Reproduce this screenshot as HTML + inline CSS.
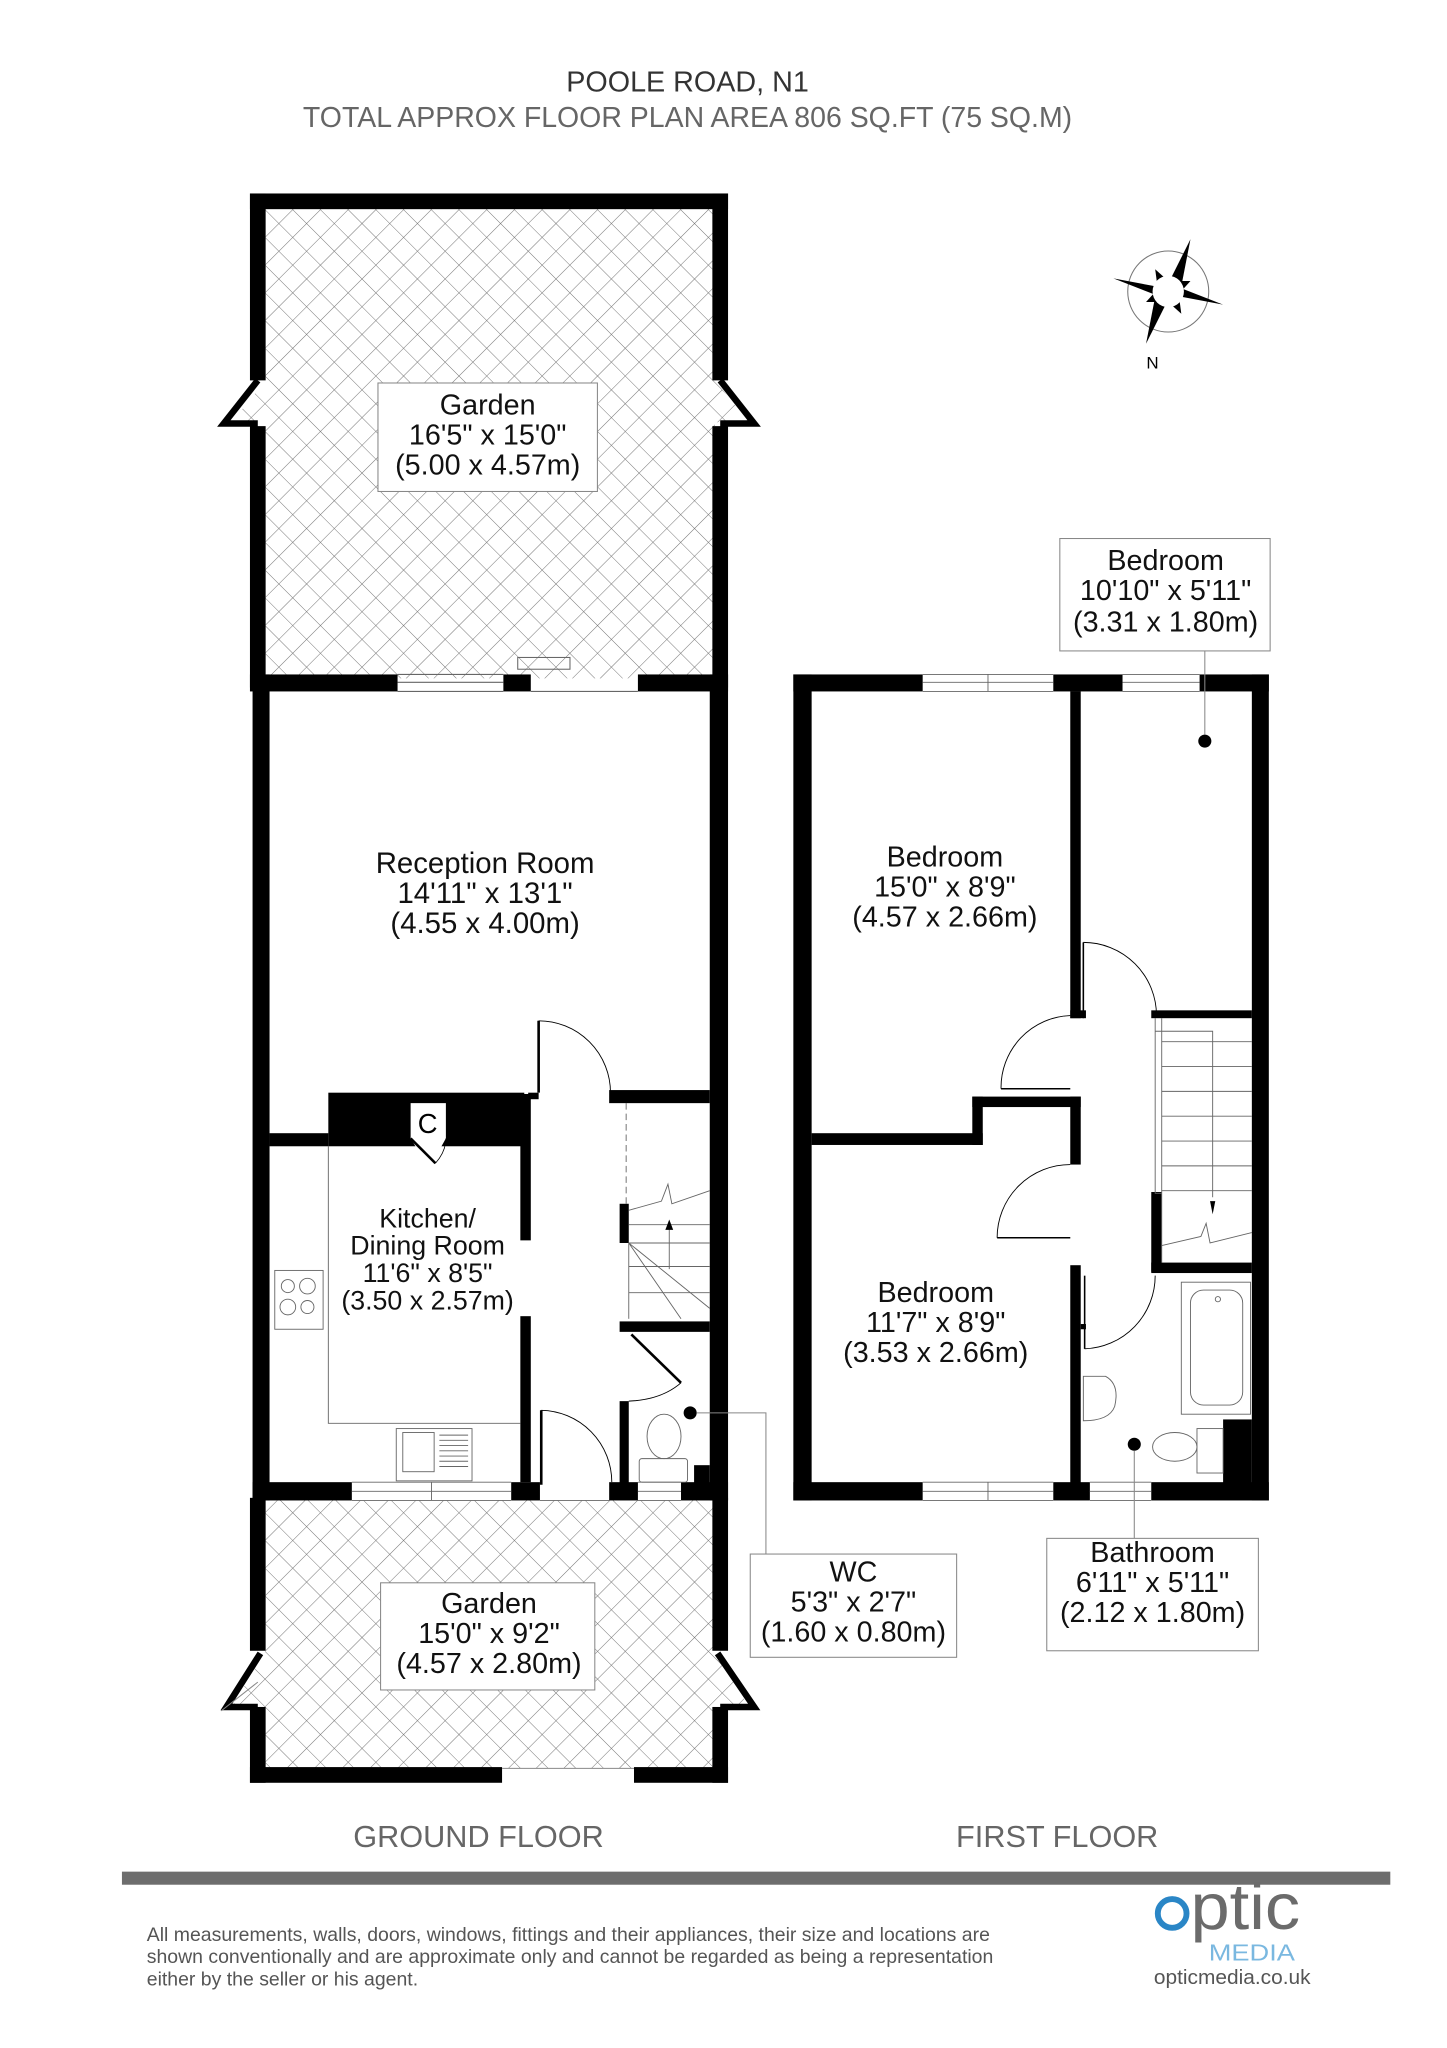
<!DOCTYPE html>
<html><head><meta charset="utf-8">
<style>
html,body{margin:0;padding:0;background:#fff;}
svg{display:block;}
text{font-family:"Liberation Sans",Arial,sans-serif;}
</style></head>
<body>
<svg width="1447" height="2048" viewBox="0 0 1100 1556" preserveAspectRatio="none" xmlns="http://www.w3.org/2000/svg">
<defs>
<pattern id="h" patternUnits="userSpaceOnUse" width="15" height="15" patternTransform="rotate(45)">
<path d="M0 0H15M0 0V15" stroke="#777" stroke-width="0.8"/>
</pattern>
</defs>
<rect width="1100" height="1556" fill="#fff"/>
<g transform="translate(192,147) scale(0.993) translate(-192,-147)">

<!-- Titles -->
<text x="525" y="69" font-size="22" text-anchor="middle" fill="#333">POOLE ROAD, N1</text>
<text x="525" y="96" font-size="21.8" text-anchor="middle" fill="#666">TOTAL APPROX FLOOR PLAN AREA 806 SQ.FT (75 SQ.M)</text>

<!-- Upper garden -->
<polygon points="202,159 546,159 546,290 572,322 546,322 546,518 202,518 202,322 176,322 202,290" fill="url(#h)"/>
<g fill="#000">
<rect x="190" y="147" width="366" height="12"/>
<rect x="190" y="147" width="12" height="143"/>
<rect x="544" y="147" width="12" height="143"/>
<rect x="190" y="325" width="12" height="200"/>
<rect x="544" y="325" width="12" height="200"/>
</g>
<polyline points="196,290 170,323 196,323" fill="none" stroke="#000" stroke-width="5"/>
<polyline points="550,290 576,323 550,323" fill="none" stroke="#000" stroke-width="5"/>
<rect x="288" y="292" width="168" height="83" fill="#fff" stroke="#888" stroke-width="0.8"/>
<text font-size="22" text-anchor="middle" fill="#111"><tspan x="372" y="316">Garden</tspan><tspan x="372" y="339">16'5" x 15'0"</tspan><tspan x="372" y="362">(5.00 x 4.57m)</tspan></text>

<!-- Reception top wall -->
<g fill="#000">
<rect x="190" y="515" width="113" height="13"/>
<rect x="384" y="515" width="21" height="13"/>
<rect x="487" y="515" width="69" height="13"/>
</g>
<g stroke="#666" stroke-width="0.8" fill="none">
<path d="M303 515H384M303 521H384M303 528H384"/>
<rect x="395" y="502" width="40" height="9"/>
<path d="M405 528H487"/>
</g>

<!-- Ground floor walls -->
<g fill="#000">
<rect x="192" y="515" width="13" height="632"/>
<rect x="542" y="515" width="14" height="632"/>
<rect x="205" y="866" width="45" height="10"/>
<rect x="250" y="835" width="150" height="41"/>
<rect x="465" y="833" width="77" height="10"/>
<rect x="403" y="835" width="8" height="5"/>
<rect x="397" y="836" width="8" height="112"/>
<rect x="397" y="1006" width="8" height="127"/>
<rect x="473" y="920" width="7" height="30"/>
<rect x="473" y="1010" width="69" height="8"/>
<rect x="473" y="1071" width="7" height="64"/>
<rect x="530" y="1120" width="12" height="15"/>
<rect x="192" y="1133" width="76" height="14"/>
<rect x="390" y="1133" width="22" height="14"/>
<rect x="465" y="1133" width="22" height="14"/>
<rect x="520" y="1133" width="36" height="14"/>
</g>
<!-- C cupboard -->
<polygon points="313,843 340,843 340,870 327,893 313,870" fill="#fff"/>
<text x="326" y="866" font-size="21" text-anchor="middle">C</text>
<path d="M313 870L332 889" stroke="#000" stroke-width="2"/>
<path d="M332 889Q340 880 340 870" stroke="#000" stroke-width="0.6" fill="none"/>
<!-- kitchen counter lines -->
<g stroke="#666" stroke-width="0.7" fill="none">
<path d="M250 876V1088H397"/>
<rect x="209" y="971" width="37" height="45"/>
<circle cx="219" cy="983" r="5"/><circle cx="234" cy="983" r="6"/>
<circle cx="219" cy="999" r="6"/><circle cx="234" cy="999" r="5"/>
<rect x="302" y="1092" width="58" height="40"/>
<rect x="307" y="1095" width="24" height="30"/>
<path d="M335 1097H357M335 1101H357M335 1105H357M335 1109H357M335 1113H357M335 1117H357M335 1121H357"/>
<path d="M268 1133H390M268 1140H390M268 1147H390M329 1133V1147"/>
<path d="M487 1133H520M487 1140H520M487 1147H520"/>
<path d="M412 1147H465"/>
</g>
<!-- doors ground -->
<g stroke="#000" fill="none">
<path d="M411 780V835" stroke-width="2"/>
<path d="M411 780A55 55 0 0 1 466 835" stroke-width="0.7"/>
<path d="M413 1078V1135" stroke-width="2"/>
<path d="M413 1078A55 55 0 0 1 467 1133" stroke-width="0.7"/>
<path d="M482 1020L520 1057" stroke-width="2"/>
<path d="M520 1057Q505 1070 480 1071" stroke-width="0.7"/>
</g>
<!-- stairs -->
<g stroke="#666" stroke-width="0.7" fill="none">
<path d="M478 843V920" stroke-dasharray="5 3"/>
<path d="M480 925L505 918L510 905L513 920L542 910"/>
<path d="M480 936H542M480 950H542M480 968H542M480 988H542"/>
<path d="M480 950L520 1008M480 950L542 1000"/>
<path d="M511 970V936"/>
<path d="M480 950V1008"/>
</g>
<path d="M508 940L511 932L514 940Z" fill="#000"/>
<!-- WC toilet -->
<g stroke="#666" stroke-width="0.7" fill="none">
<ellipse cx="507" cy="1098" rx="13" ry="17"/>
<rect x="488" y="1115" width="37" height="18" rx="2"/>
</g>
<circle cx="527" cy="1080" r="5" fill="#000"/>
<path d="M532 1080H585V1188" stroke="#888" stroke-width="0.8" fill="none"/>

<!-- Lower garden -->
<polygon points="202,1147 546,1147 546,1262 572,1305 546,1305 546,1352 202,1352 202,1305 176,1305 202,1262" fill="url(#h)"/>
<g fill="#000">
<rect x="190" y="1145" width="12" height="117"/>
<rect x="544" y="1145" width="12" height="117"/>
<rect x="190" y="1305" width="12" height="58"/>
<rect x="544" y="1305" width="12" height="58"/>
<rect x="190" y="1351" width="193" height="12"/>
<rect x="484" y="1351" width="72" height="12"/>
</g>
<path d="M383 1352H484" stroke="#888" stroke-width="0.8"/>
<polyline points="198,1264 172,1305 196,1305" fill="none" stroke="#000" stroke-width="5"/>
<polyline points="548,1264 576,1305 550,1305" fill="none" stroke="#000" stroke-width="5"/>
<path d="M168 1308L196 1286" stroke="#888" stroke-width="0.8"/>
<rect x="290" y="1210" width="164" height="82" fill="#fff" stroke="#888" stroke-width="0.8"/>
<text font-size="22" text-anchor="middle" fill="#111"><tspan x="373" y="1233">Garden</tspan><tspan x="373" y="1256">15'0" x 9'2"</tspan><tspan x="373" y="1279">(4.57 x 2.80m)</tspan></text>

<!-- Reception & kitchen labels -->
<text font-size="22.5" text-anchor="middle" fill="#111"><tspan x="370" y="667">Reception Room</tspan><tspan x="370" y="690">14'11" x 13'1"</tspan><tspan x="370" y="713">(4.55 x 4.00m)</tspan></text>
<text font-size="20.5" text-anchor="middle" fill="#111"><tspan x="326" y="938">Kitchen/</tspan><tspan x="326" y="959">Dining Room</tspan><tspan x="326" y="980">11'6" x 8'5"</tspan><tspan x="326" y="1001">(3.50 x 2.57m)</tspan></text>

<!-- WC label -->
<rect x="573" y="1188" width="158" height="79" fill="#fff" stroke="#888" stroke-width="0.8"/>
<text font-size="22" text-anchor="middle" fill="#111"><tspan x="652" y="1209">WC</tspan><tspan x="652" y="1232">5'3" x 2'7"</tspan><tspan x="652" y="1255">(1.60 x 0.80m)</tspan></text>

<!-- FIRST FLOOR -->
<g fill="#000">
<rect x="606" y="515" width="99" height="13"/>
<rect x="805" y="515" width="53" height="13"/>
<rect x="917" y="515" width="53" height="13"/>
<rect x="606" y="515" width="14" height="632"/>
<rect x="957" y="515" width="13" height="632"/>
<rect x="606" y="1133" width="99" height="14"/>
<rect x="805" y="1133" width="28" height="14"/>
<rect x="880" y="1133" width="90" height="14"/>
<rect x="818" y="528" width="8" height="250"/>
<rect x="818" y="772" width="12" height="6"/>
<rect x="818" y="838" width="8" height="52"/>
<rect x="818" y="967" width="8" height="168"/>
<rect x="826" y="1012" width="4" height="4"/>
<rect x="620" y="866" width="131" height="9"/>
<rect x="743" y="838" width="8" height="37"/>
<rect x="743" y="838" width="83" height="8"/>
<rect x="880" y="772" width="77" height="6"/>
<rect x="880" y="911" width="8" height="61"/>
<rect x="880" y="965" width="77" height="8"/>
<rect x="935" y="1085" width="22" height="50"/>
</g>
<g stroke="#666" stroke-width="0.7" fill="none">
<path d="M705 515H805M705 521H805M705 528H805M755 515V528"/>
<path d="M858 515H917M858 521H917M858 528H917"/>
<path d="M705 1133H805M705 1140H805M705 1147H805M755 1133V1147"/>
<path d="M833 1133H880M833 1140H880M833 1147H880"/>
<path d="M883 778V912H888M888 778V965"/>
<path d="M888 796H957M888 815H957M888 834H957M888 853H957M888 872H957M888 891H957M888 910H957"/>
<path d="M888 952L918 945L922 935L925 950L957 942"/>
<path d="M883 788H927V915"/>
<rect x="903" y="980" width="53" height="101"/>
<rect x="910" y="986" width="40" height="88" rx="10"/>
<circle cx="931" cy="993" r="2"/>
<ellipse cx="898" cy="1106" rx="17" ry="11"/>
<rect x="915" y="1092" width="20" height="34"/>
<path d="M828 1052H845Q856 1058 852 1075Q848 1086 828 1086Z"/>
</g>
<path d="M925 918L927 928L929 918Z" fill="#000"/>
<g stroke="#000" fill="none">
<path d="M828 720V778" stroke-width="1.2"/>
<path d="M828 720A56 56 0 0 1 884 776" stroke-width="0.7"/>
<path d="M765 832H818" stroke-width="1.2"/>
<path d="M765 832A55 55 0 0 1 818 776" stroke-width="0.7"/>
<path d="M762 946H818" stroke-width="1.2"/>
<path d="M762 946A56 56 0 0 1 818 890" stroke-width="0.7"/>
<path d="M829 975V1031" stroke-width="1.2"/>
<path d="M829 1031A56 56 0 0 0 883 975" stroke-width="0.7"/>
</g>
<circle cx="921" cy="566" r="5" fill="#000"/>
<path d="M921 561V497" stroke="#888" stroke-width="0.8"/>
<circle cx="867" cy="1104" r="5" fill="#000"/>
<path d="M867 1109V1176" stroke="#888" stroke-width="0.8"/>

<text font-size="22" text-anchor="middle" fill="#111"><tspan x="722" y="662">Bedroom</tspan><tspan x="722" y="685">15'0" x 8'9"</tspan><tspan x="722" y="708">(4.57 x 2.66m)</tspan></text>
<text font-size="22" text-anchor="middle" fill="#111"><tspan x="715" y="995">Bedroom</tspan><tspan x="715" y="1018">11'7" x 8'9"</tspan><tspan x="715" y="1041">(3.53 x 2.66m)</tspan></text>

<rect x="810" y="411" width="161" height="86" fill="#fff" stroke="#888" stroke-width="0.8"/>
<text font-size="22" text-anchor="middle" fill="#111"><tspan x="891" y="435">Bedroom</tspan><tspan x="891" y="458">10'10" x 5'11"</tspan><tspan x="891" y="482">(3.31 x 1.80m)</tspan></text>
<rect x="800" y="1176" width="162" height="86" fill="#fff" stroke="#888" stroke-width="0.8"/>
<text font-size="22" text-anchor="middle" fill="#111"><tspan x="881" y="1194">Bathroom</tspan><tspan x="881" y="1217">6'11" x 5'11"</tspan><tspan x="881" y="1240">(2.12 x 1.80m)</tspan></text>

<!-- compass -->
<g transform="translate(893,222)">
<circle r="31" fill="none" stroke="#777" stroke-width="0.8"/>
<polygon points="17,-40 2,-10 10,-4" fill="#000"/>
<polygon points="-17,40 -2,10 -10,4" fill="#000"/>
<polygon points="-42,-10 -10,-4 -6,4" fill="#000"/>
<polygon points="42,10 10,4 6,-4" fill="#000"/>
<polygon points="-10,-17 0,-8 -8,-2" fill="#000"/>
<polygon points="10,17 0,8 8,2" fill="#000"/>
<polygon points="17,-8 8,2 2,-8" fill="#000"/>
<polygon points="-17,8 -8,-2 -2,8" fill="#000"/>
<circle r="12" fill="#fff"/>
</g>
<text x="881" y="281" font-size="13" text-anchor="middle">N</text>

<!-- floor labels -->
<text x="365" y="1412" font-size="23.5" text-anchor="middle" fill="#666">GROUND FLOOR</text>
<text x="808" y="1412" font-size="23.5" text-anchor="middle" fill="#666">FIRST FLOOR</text>
<rect x="92" y="1431" width="971" height="10" fill="#6d6d6d"/>

<!-- footer -->
<text font-size="14.9" fill="#555"><tspan x="111" y="1484">All measurements, walls, doors, windows, fittings and their appliances, their size and locations are</tspan><tspan x="111" y="1501">shown conventionally and are approximate only and cannot be regarded as being a representation</tspan><tspan x="111" y="1518">either by the seller or his agent.</tspan></text>
<circle cx="896" cy="1463" r="11" fill="none" stroke="#2a86c6" stroke-width="4.5"/>
<text x="910" y="1475" font-size="50" fill="#6b6b6b" textLength="84" lengthAdjust="spacingAndGlyphs">ptic</text>
<text x="924" y="1499" font-size="18" fill="#7ab8e0" textLength="66" lengthAdjust="spacingAndGlyphs">MEDIA</text>
<text x="882" y="1517" font-size="15.5" fill="#555" textLength="120" lengthAdjust="spacingAndGlyphs">opticmedia.co.uk</text>
</g>
</svg>
</body></html>
